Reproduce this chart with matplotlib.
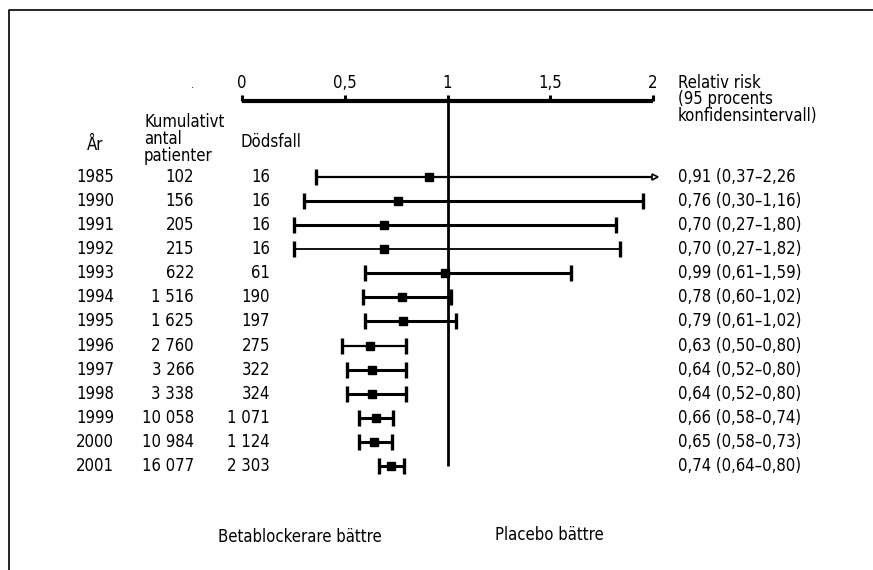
import matplotlib
matplotlib.use("Agg")
import matplotlib.pyplot as plt
from matplotlib.lines import Line2D

plt.rcParams["font.family"] = ["DejaVu Sans"]
plt.rcParams["font.stretch"] = "condensed"

# data
years = ["1985", "1990", "1991", "1992", "1993", "1994", "1995",
         "1996", "1997", "1998", "1999", "2000", "2001"]
cum_patients = ["102", "156", "205", "215", "622", "1 516", "1 625",
                "2 760", "3 266", "3 338", "10 058", "10 984", "16 077"]
deaths = ["16", "16", "16", "16", "61", "190", "197",
          "275", "322", "324", "1 071", "1 124", "2 303"]
rr_labels = ["0,91 (0,37–2,26", "0,76 (0,30–1,16)", "0,70 (0,27–1,80)",
             "0,70 (0,27–1,82)", "0,99 (0,61–1,59)", "0,78 (0,60–1,02)",
             "0,79 (0,61–1,02)", "0,63 (0,50–0,80)", "0,64 (0,52–0,80)",
             "0,64 (0,52–0,80)", "0,66 (0,58–0,74)", "0,65 (0,58–0,73)",
             "0,74 (0,64–0,80)"]
# positions as drawn in the picture
rr_point = [0.91, 0.76, 0.69, 0.69, 0.99, 0.78, 0.785,
            0.623, 0.633, 0.633, 0.65, 0.643, 0.725]
rr_low = [0.36, 0.30, 0.253, 0.253, 0.60, 0.59, 0.60,
          0.487, 0.51, 0.51, 0.57, 0.57, 0.667]
rr_high = [2.0, 1.95, 1.82, 1.84, 1.60, 1.015, 1.04,
           0.797, 0.797, 0.80, 0.733, 0.73, 0.787]
line_w = [1.6, 2.2, 2.2, 1.3, 2.2, 2.2, 2.2, 1.6, 2.2, 2.2, 2.2, 2.2, 2.2]
ticks = [0, 0.5, 1, 1.5, 2]
tick_labels = ["0", "0,5", "1", "1,5", "2"]

W, H = 873, 570
X0, X1 = 242, 653          # pixel x of RR 0 and RR 2
ROW0, ROW_STEP = 177, 24.08  # pixel y of first row, row spacing
SPINE_Y = 101


def px_x(px):
    return (px - X0) / (X1 - X0) * 2


def px_y(py):
    return (py - ROW0) / ROW_STEP


fig = plt.figure(figsize=(W / 100, H / 100), dpi=100)
ax = fig.add_axes([X0 / W, 0, (X1 - X0) / W, (H - SPINE_Y) / H])
ax.set_xlim(0, 2)
ax.set_ylim(px_y(H), px_y(SPINE_Y))

for s in ["left", "right", "bottom"]:
    ax.spines[s].set_visible(False)
ax.spines["top"].set_linewidth(3)
ax.spines["top"].set_capstyle("butt")
ax.yaxis.set_visible(False)
ax.xaxis.set_ticks_position("top")
ax.set_xticks(ticks)
ax.set_xticklabels(tick_labels)
ax.tick_params(axis="x", direction="out", length=4, width=2.2,
               pad=2.5, labelsize=12)

rows = list(range(len(years)))

# reference line at RR = 1
ax.plot([1, 1], [px_y(SPINE_Y), rows[-1]], color="black", lw=2,
        solid_capstyle="butt", clip_on=False)

fs = 12
for i in rows:
    lo, hi, pt = rr_low[i], rr_high[i], rr_point[i]
    ax.plot([lo, hi], [i, i], color="black", lw=line_w[i],
            solid_capstyle="butt", clip_on=False)
    ax.plot([lo], [i], marker="|", ms=11, mew=2.4, color="black", clip_on=False)
    if i == 0:
        ax.plot([hi + 0.01], [i], marker=">", ms=5, color="black",
                mfc="white", mew=1.2, clip_on=False)
    else:
        ax.plot([hi], [i], marker="|", ms=11, mew=2.4, color="black", clip_on=False)
    ax.plot([pt], [i], marker="s", ms=6, color="black", clip_on=False)

    ax.text(px_x(95), i, years[i], ha="center", va="center", fontsize=fs)
    ax.text(px_x(194), i, cum_patients[i], ha="right", va="center", fontsize=fs)
    ax.text(px_x(270), i, deaths[i], ha="right", va="center", fontsize=fs)
    ax.text(px_x(678), i, rr_labels[i], ha="left", va="center", fontsize=fs)

# headers
ax.text(px_x(95), px_y(145), "År", ha="center", va="center", fontsize=fs)
ax.text(px_x(144), px_y(113), "Kumulativt\nantal\npatienter", ha="left",
        va="top", fontsize=fs, linespacing=0.92)
ax.text(px_x(240), px_y(142), "Dödsfall", ha="left", va="center", fontsize=fs)
ax.text(px_x(192), px_y(85), ".", ha="center", va="center", fontsize=8)
ax.text(px_x(678), px_y(74), "Relativ risk\n(95 procents\nkonfidensintervall)",
        ha="left", va="top", fontsize=fs, linespacing=0.88)

ax.text(px_x(218), px_y(537), "Betablockerare bättre", ha="left",
        va="center", fontsize=fs)
ax.text(px_x(495), px_y(535), "Placebo bättre", ha="left",
        va="center", fontsize=fs)

# open frame: left and top edges
fig.add_artist(Line2D([9 / W, 9 / W, 1], [0, 1 - 10 / H, 1 - 10 / H],
                      transform=fig.transFigure, color="black", lw=1.2))

fig.savefig("out.png", dpi=100)
